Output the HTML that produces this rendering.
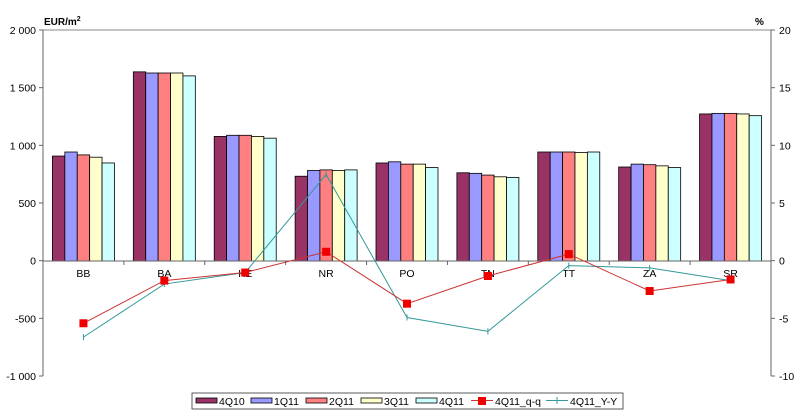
<!DOCTYPE html>
<html><head><meta charset="utf-8"><style>body{margin:0;background:#fff}svg{display:block}text{font-family:"Liberation Sans",Arial,sans-serif;fill:#000}</style></head>
<body>
<svg id="c" width="800" height="417" xmlns="http://www.w3.org/2000/svg">
<rect width="800" height="417" fill="#fff"/>
<rect x="192" y="393" width="431" height="16" fill="#fff" stroke="#333" stroke-width="0.8"/>
<line x1="43" y1="30" x2="771" y2="30" stroke="#888"/>
<line x1="43" y1="30" x2="43" y2="376" stroke="#666"/>
<line x1="771" y1="30" x2="771" y2="376" stroke="#666"/>
<text x="44" y="25" font-size="10" font-weight="bold">EUR/m<tspan font-size="7" dy="-4">2</tspan></text>
<text x="755" y="25" font-size="10" font-weight="bold">%</text>
<g id="g"></g>
</svg>
<script>
var g=document.getElementById('g'),s='';
var L=43,R=771,T=30,B=376,z=261,cw=(R-L)/9;
function yL(v){return z-v*(B-T)/3000}function yR(v){return z-v*(B-T)/30}
var lv=['2 000','1 500','1 000','500','0','-500','-1 000'];
for(var i=0;i<=6;i++){var y=T+i*(B-T)/6;s+='<line x1="39" y1="'+y+'" x2="43" y2="'+y+'" stroke="#666"/><text x="36" y="'+(y+4)+'" font-size="10.5" text-anchor="end">'+lv[i]+'</text>';
s+='<line x1="771" y1="'+y+'" x2="775" y2="'+y+'" stroke="#666"/><text x="779" y="'+(y+4)+'" font-size="10.5">'+(20-5*i)+'</text>';}
var cats=['BB','BA','KE','NR','PO','TN','TT','ZA','SR'];
var d=[[910,945,920,900,850],[1640,1630,1630,1630,1605],[1080,1090,1090,1080,1065],[735,785,790,785,790],[850,860,840,840,810],[765,760,745,730,725],[945,945,945,940,945],[815,840,835,825,810],[1275,1280,1280,1275,1260]];
var col=['#993366','#9999ff','#ff8080','#ffffcc','#ccffff'];
var bw=12.4;
for(var c=0;c<9;c++){var cx=L+cw*(c+.5),x0=cx-2.5*bw;
for(var k=0;k<5;k++){var y=yL(d[c][k]);s+='<rect x="'+(x0+k*bw)+'" y="'+y+'" width="'+bw+'" height="'+(z-y)+'" fill="'+col[k]+'" stroke="#000" stroke-width="0.8"/>';}
}
s+='<line x1="43" y1="261" x2="771" y2="261" stroke="#666"/>';
for(var c=0;c<=9;c++){var x=L+cw*c;s+='<line x1="'+x+'" y1="261" x2="'+x+'" y2="265" stroke="#666"/>';}
for(var c=0;c<9;c++){s+='<text x="'+(L+cw*(c+.5))+'" y="277" font-size="10.5" text-anchor="middle">'+cats[c]+'</text>';}
var q=[-5.4,-1.7,-1.0,0.8,-3.7,-1.3,0.6,-2.6,-1.6],yy=[-6.6,-2.0,-1.0,7.5,-4.9,-6.1,-0.4,-0.6,-1.7];
var p1='',p2='';for(var c=0;c<9;c++){var x=L+cw*(c+.5);p1+=x+','+yR(q[c])+' ';p2+=x+','+yR(yy[c])+' ';}
s+='<polyline points="'+p2+'" fill="none" stroke="#339999" stroke-width="1"/>';
s+='<polyline points="'+p1+'" fill="none" stroke="#cc3333" stroke-width="1"/>';
for(var c=0;c<9;c++){var x=L+cw*(c+.5);s+='<line x1="'+x+'" y1="'+(yR(yy[c])-3)+'" x2="'+x+'" y2="'+(yR(yy[c])+3)+'" stroke="#339999"/><rect x="'+(x-4)+'" y="'+(yR(q[c])-4)+'" width="8" height="8" fill="#ee0000"/>';}
var lx=[196,251,306,361,416];var nm=['4Q10','1Q11','2Q11','3Q11','4Q11'];
for(var k=0;k<5;k++){s+='<rect x="'+lx[k]+'" y="398" width="21" height="5" fill="'+col[k]+'" stroke="#000" stroke-width="0.8"/><text x="'+(lx[k]+23)+'" y="405" font-size="10.5">'+nm[k]+'</text>';}
s+='<line x1="471" y1="400.5" x2="493" y2="400.5" stroke="#cc3333"/><rect x="478" y="397" width="8" height="8" fill="#ee0000"/><text x="495" y="405" font-size="10.5">4Q11_q-q</text>';
s+='<line x1="546" y1="400.5" x2="568" y2="400.5" stroke="#339999"/><line x1="557" y1="397" x2="557" y2="404" stroke="#339999"/><text x="570" y="405" font-size="10.5">4Q11_Y-Y</text>';
g.innerHTML=s;
</script>
</body></html>
